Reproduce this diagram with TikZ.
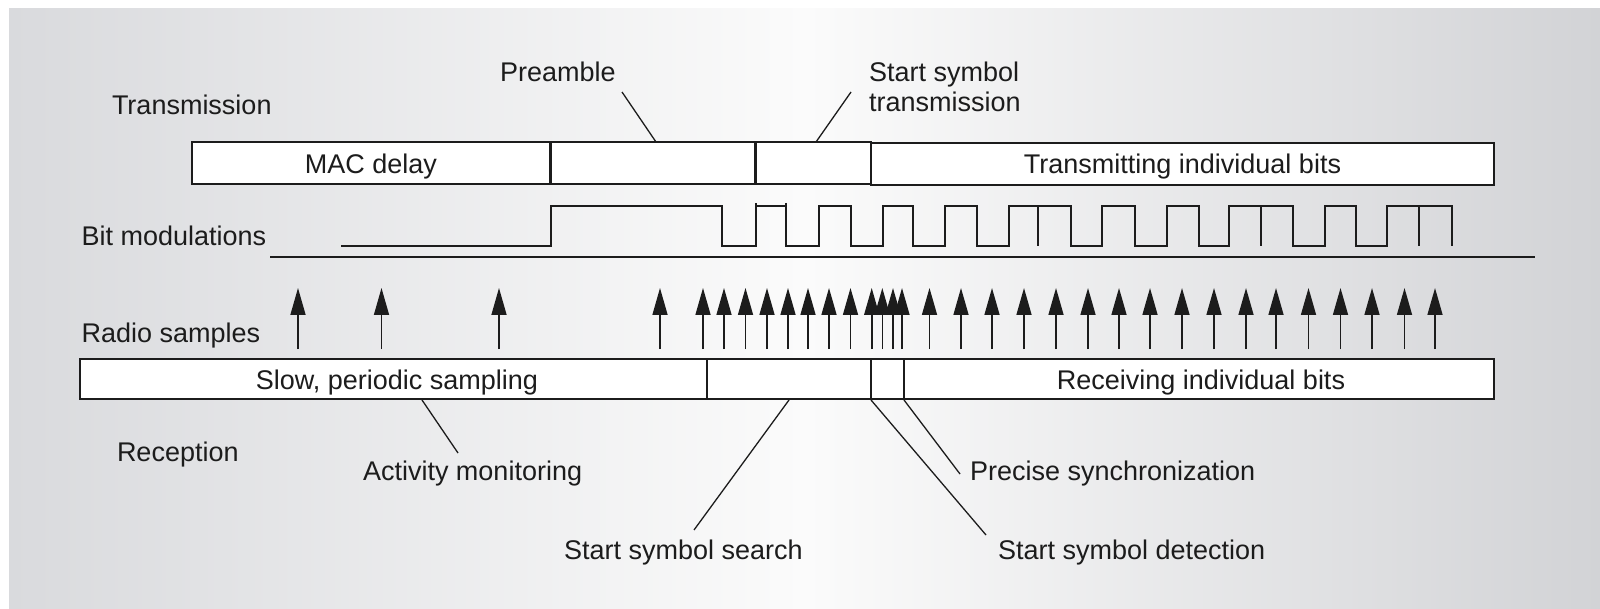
\documentclass[tikz,border=0pt]{standalone}
\usepackage{fontspec}
\setmainfont{Liberation Sans}
\usetikzlibrary{arrows.meta}
\definecolor{bgL}{RGB}{217,218,221}
\definecolor{bgR}{RGB}{210,211,214}
\definecolor{bgM}{RGB}{251,251,251}
\definecolor{ink}{RGB}{28,28,28}
\begin{document}
\begin{tikzpicture}[x=1pt,y=-1pt,
  lbl/.style={inner sep=0pt, outer sep=0pt, font=\fontsize{27}{32}\selectfont, text=ink},
  seg/.style={draw=ink, line width=2pt, fill=white, inner sep=0pt, outer sep=0pt},
  tseg/.style={seg, minimum height=42pt},
  rseg/.style={seg, minimum height=40pt},
  lead/.style={draw=ink, line width=1.3pt},
  wave/.style={draw=ink, line width=2pt, line join=miter},
  sample/.style={draw=ink, line width=1.6pt, -{Triangle[length=27pt,width=15pt]}},
]
\useasboundingbox (0,0) rectangle (1600,609);
\shade[left color=bgL, right color=bgR, middle color=bgM] (9,9) rectangle (1600,609);

% ---------- Transmission ----------
\node[lbl, anchor=base west] (trans) at (112,115) {Transmission};
\node[tseg, minimum width=358pt] (t1) at (371,163) {};
\node[tseg, minimum width=205pt] (t2) at (652.5,163) {};
\node[tseg, minimum width=116pt] (t3) at (813,163) {};
\node[tseg, minimum width=623pt] (t4) at (1182.5,164.5) {};
\draw[draw=ink, line width=3pt] (t1.north east) -- (t1.south east);
\draw[draw=ink, line width=3pt] (t2.north east) -- (t2.south east);
\node[lbl, anchor=base] (macl) at (371,173.5) {MAC delay};
\node[lbl, anchor=base] (txl) at (1182.5,173.5) {Transmitting individual bits};

\node[lbl, anchor=base west] (pre) at (500,81.6) {Preamble};
\node[lbl, anchor=base west] (ss1) at (869,81.6) {Start symbol};
\node[lbl, anchor=base west] (ss2) at (869,112) {transmission};
\coordinate (preA) at (622,92);
\coordinate (preB) at (656,142);
\coordinate (ssA) at (851,92);
\coordinate (ssB) at (816,142);
\draw[lead] (preA) -- (preB);
\draw[lead] (ssA) -- (ssB);

% ---------- Bit modulations ----------
\node[lbl, anchor=base west] (bitm) at (81.6,246) {Bit modulations};
\draw[wave] (341,246) -- (551,246) -- (551,206) -- (722,206) -- (722,246) -- (756,246) -- (756,203);
\draw[draw=ink, line width=1.2pt] (756,206) -- (786,206);
\draw[wave] (786,203) -- (786,246) -- (818.6,246) -- (818.6,206) -- (851,206) -- (851,246)
  -- (883,246) -- (883,206) -- (912.5,206) -- (912.5,246) -- (944.6,246) -- (944.6,206)
  -- (977,206) -- (977,246) -- (1008.5,246) -- (1008.5,206) -- (1071,206) -- (1071,246)
  -- (1102,246) -- (1102,206) -- (1135,206) -- (1135,246) -- (1167,246) -- (1167,206)
  -- (1199,206) -- (1199,246) -- (1229,246) -- (1229,206) -- (1293,206) -- (1293,246)
  -- (1325,246) -- (1325,206) -- (1356,206) -- (1356,246) -- (1387,246) -- (1387,206)
  -- (1452,206) -- (1452,246);
\foreach \d in {1038,1261,1419} \draw[wave] (\d,206) -- (\d,246);
\coordinate (baseA) at (270,257);
\coordinate (baseB) at (1535,257);
\draw[wave] (baseA) -- (baseB);

% ---------- Radio samples ----------
\node[lbl, anchor=base west] (radio) at (81.6,343) {Radio samples};
\foreach \s in {298,381.5,499,660,703,724,745.5,767,788,808,829,850.5,871.7,882.3,893,902,
  929.5,961,992,1024,1056,1088,1119,1150,1182,1214,1246,1276,1308.5,1340.5,1372,1404.5,1435}
  \draw[sample] (\s,349) -- (\s,288);

% ---------- Reception ----------
\node[rseg, minimum width=627pt] (r1) at (393.5,379) {};
\node[rseg, minimum width=164pt] (r2) at (789,379) {};
\node[rseg, minimum width=33pt] (r3) at (887.5,379) {};
\node[rseg, minimum width=590pt] (r4) at (1199,379) {};
\node[lbl, anchor=base] (slowl) at (397,389) {Slow, periodic sampling};
\node[lbl, anchor=base] (rxl) at (1201,389) {Receiving individual bits};

\node[lbl, anchor=base west] (recep) at (117,461) {Reception};
\node[lbl, anchor=base west] (act) at (363,480.6) {Activity monitoring};
\node[lbl, anchor=base west] (prec) at (970,480.6) {Precise synchronization};
\node[lbl, anchor=base west] (search) at (564,559) {Start symbol search};
\node[lbl, anchor=base west] (detect) at (998,559) {Start symbol detection};

\coordinate (actA) at (422,400);
\coordinate (actB) at (458,453);
\coordinate (srA) at (789,400);
\coordinate (srB) at (694,530);
\coordinate (deA) at (871,400);
\coordinate (deB) at (986,535);
\coordinate (prA) at (904,400);
\coordinate (prB) at (960,474);
\draw[lead] (actA) -- (actB);
\draw[lead] (srA) -- (srB);
\draw[lead] (deA) -- (deB);
\draw[lead] (prA) -- (prB);
\end{tikzpicture}
\end{document}
